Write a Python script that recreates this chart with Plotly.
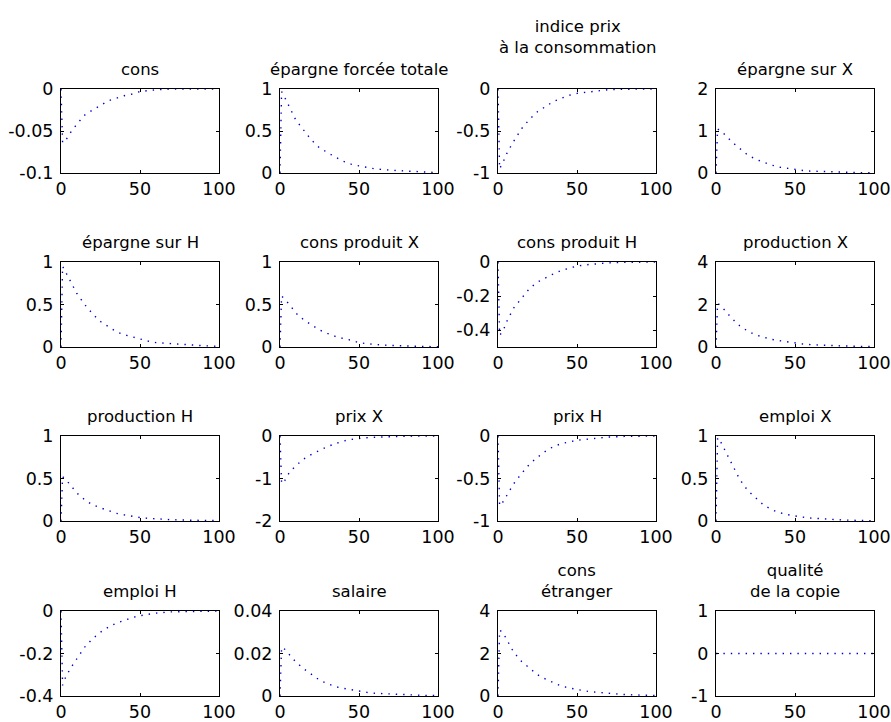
import plotly.graph_objects as go

# time grid (periods)
t = [0, 1, 3, 6, 10, 15, 20, 25, 30, 35, 40, 45, 50, 55, 60, 70, 80, 90, 100]

titles = [
    "cons", "épargne forcée totale", "indice prix<br>à la consommation<br> ", "épargne sur X",
    "épargne sur H", "cons produit X", "cons produit H", "production X",
    "production H", "prix X", "prix H", "emploi X",
    "emploi H", "salaire", "cons<br>étranger", "qualité<br>de la copie",
]

cons = [0, -0.064, -0.061, -0.052, -0.042, -0.031, -0.025, -0.019, -0.014, -0.011, -0.008, -0.006, -0.003, -0.002, -0.001, 0, 0, 0, 0]
epargne_totale = [0, 0.97, 0.9, 0.78, 0.63, 0.51, 0.39, 0.3, 0.24, 0.19, 0.14, 0.105, 0.085, 0.065, 0.05, 0.033, 0.025, 0.012, 0.004]
indice_prix = [0, -0.95, -0.88, -0.75, -0.62, -0.47, -0.36, -0.27, -0.21, -0.15, -0.11, -0.075, -0.052, -0.04, -0.025, -0.008, -0.003, -0.001, 0]
epargne_x = [0, 1.05, 1.0, 0.9, 0.74, 0.58, 0.43, 0.33, 0.26, 0.19, 0.14, 0.11, 0.08, 0.06, 0.045, 0.03, 0.02, 0.01, 0.005]
epargne_h = [0, 0.95, 0.88, 0.77, 0.63, 0.5, 0.39, 0.3, 0.24, 0.18, 0.145, 0.12, 0.09, 0.07, 0.052, 0.038, 0.025, 0.015, 0.008]
cons_prod_x = [0, 0.6, 0.56, 0.5, 0.4, 0.32, 0.26, 0.2, 0.16, 0.125, 0.1, 0.08, 0.05, 0.037, 0.03, 0.018, 0.01, 0.006, 0.004]
cons_prod_h = [0, -0.43, -0.41, -0.34, -0.27, -0.21, -0.155, -0.118, -0.093, -0.07, -0.05, -0.037, -0.024, -0.017, -0.012, -0.005, -0.002, -0.001, 0]
production_x = [0, 2.05, 1.95, 1.7, 1.35, 1.0, 0.75, 0.57, 0.45, 0.36, 0.3, 0.24, 0.17, 0.14, 0.11, 0.07, 0.05, 0.03, 0.02]
production_h = [0, 0.52, 0.49, 0.42, 0.33, 0.25, 0.19, 0.155, 0.12, 0.09, 0.072, 0.055, 0.04, 0.032, 0.025, 0.015, 0.01, 0.006, 0.004]
prix_x = [0, -1.12, -1.05, -0.85, -0.7, -0.54, -0.43, -0.33, -0.25, -0.18, -0.12, -0.08, -0.055, -0.04, -0.03, -0.01, -0.005, -0.002, 0]
prix_h = [0, -0.82, -0.78, -0.69, -0.56, -0.44, -0.33, -0.25, -0.18, -0.125, -0.09, -0.07, -0.05, -0.04, -0.03, -0.012, -0.005, -0.002, 0]
emploi_x = [0, 0.98, 0.93, 0.82, 0.67, 0.49, 0.36, 0.27, 0.19, 0.135, 0.1, 0.075, 0.058, 0.045, 0.035, 0.02, 0.012, 0.007, 0.004]
emploi_h = [0, -0.35, -0.31, -0.27, -0.225, -0.17, -0.13, -0.1, -0.076, -0.057, -0.045, -0.031, -0.022, -0.015, -0.01, -0.004, -0.002, -0.001, 0]
salaire = [0, 0.023, 0.022, 0.0195, 0.016, 0.0128, 0.0102, 0.0075, 0.0058, 0.0044, 0.0036, 0.0029, 0.0022, 0.0017, 0.0013, 0.0009, 0.0005, 0.0003, 0.0002]
cons_etranger = [0, 3.1, 3.0, 2.6, 2.05, 1.62, 1.3, 1.0, 0.8, 0.62, 0.47, 0.38, 0.3, 0.24, 0.19, 0.12, 0.07, 0.04, 0.025]
qualite_copie = [0, 0, 0, 0, 0, 0, 0, 0, 0, 0, 0, 0, 0, 0, 0, 0, 0, 0, 0]

series = [cons, epargne_totale, indice_prix, epargne_x,
          epargne_h, cons_prod_x, cons_prod_h, production_x,
          production_h, prix_x, prix_h, emploi_x,
          emploi_h, salaire, cons_etranger, qualite_copie]

y_ranges = [[-0.1, 0], [0, 1], [-1, 0], [0, 2],
            [0, 1], [0, 1], [-0.5, 0], [0, 4],
            [0, 1], [-2, 0], [-1, 0], [0, 1],
            [-0.4, 0], [0, 0.04], [0, 4], [-1, 1]]
y_ticks = [[-0.1, -0.05, 0], [0, 0.5, 1], [-1, -0.5, 0], [0, 1, 2],
           [0, 0.5, 1], [0, 0.5, 1], [-0.4, -0.2, 0], [0, 2, 4],
           [0, 0.5, 1], [-2, -1, 0], [-1, -0.5, 0], [0, 0.5, 1],
           [-0.4, -0.2, 0], [0, 0.02, 0.04], [0, 2, 4], [-1, 0, 1]]
y_ticktext = [["-0.1", "-0.05", "0"], ["0", "0.5", "1"], ["-1", "-0.5", "0"], ["0", "1", "2"],
              ["0", "0.5", "1"], ["0", "0.5", "1"], ["-0.4", "-0.2", "0"], ["0", "2", "4"],
              ["0", "0.5", "1"], ["-2", "-1", "0"], ["-1", "-0.5", "0"], ["0", "0.5", "1"],
              ["-0.4", "-0.2", "0"], ["0", "0.02", "0.04"], ["0", "2", "4"], ["-1", "0", "1"]]
x_ticks = [0, 50, 100]
x_ticktext = ["0", "50", "100"]

W, H = 891, 722
col_px = [(61, 219), (280, 438), (498, 656), (716, 874)]
row_px = [(89, 173), (262, 347), (436, 521), (611, 696)]

FONT = "DejaVu Sans"
fig = go.Figure()
layout = dict(
    width=W, height=H, margin=dict(l=0, r=0, t=0, b=0, autoexpand=False),
    paper_bgcolor="white", plot_bgcolor="white", showlegend=False,
    font=dict(family=FONT, size=16, color="black"),
)
annotations = []
for i in range(16):
    r, c = divmod(i, 4)
    n = "" if i == 0 else str(i + 1)
    xa, ya = "x" + n, "y" + n
    fig.add_trace(go.Scatter(
        x=t, y=series[i], mode="lines", xaxis=xa, yaxis=ya,
        line=dict(color="#0000cc", width=1.4, dash="1.4px,6px"),
        hoverinfo="skip",
    ))
    x0, x1 = col_px[c]
    y0, y1 = row_px[r]
    xd = [x0 / W, x1 / W]
    yd = [1 - y1 / H, 1 - y0 / H]
    common = dict(showgrid=False, zeroline=False, showline=True, linecolor="black",
                  linewidth=1, mirror="ticks", ticks="inside", ticklen=3,
                  tickcolor="black", tickwidth=1, tickfont=dict(family=FONT, size=17.5))
    layout["xaxis" + n] = dict(domain=xd, anchor=ya, range=[0, 100], tickmode="array",
                               tickvals=x_ticks, ticktext=x_ticktext, **common)
    layout["yaxis" + n] = dict(domain=yd, anchor=xa, range=y_ranges[i], tickmode="array",
                               tickvals=y_ticks[i], ticktext=y_ticktext[i],
                               ticklabelstandoff=3, **common)
    annotations.append(dict(
        text=titles[i], xref="paper", yref="paper", x=(xd[0] + xd[1]) / 2, y=yd[1],
        xanchor="center", yanchor="bottom", yshift=8, showarrow=False,
        font=dict(family=FONT, size=16.5, color="black"),
    ))
layout["annotations"] = annotations
fig.update_layout(**layout)
fig.write_html("out.html", config={"displayModeBar": False, "staticPlot": True},
               post_script="document.body.style.margin='0';document.body.style.overflow='hidden';")
